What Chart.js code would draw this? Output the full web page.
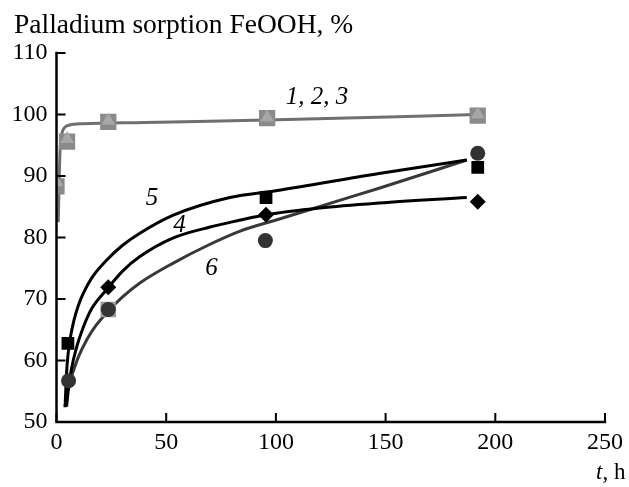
<!DOCTYPE html>
<html>
<head>
<meta charset="utf-8">
<script src="https://cdn.jsdelivr.net/npm/chart.js@4/dist/chart.umd.min.js"></script>
<style>
  html, body { margin: 0; padding: 0; background: #fff; }
  #wrap { width: 629px; height: 487px; position: relative; }
</style>
</head>
<body>
<div id="wrap"><canvas id="c"></canvas></div>
<script>
// Axis ticks
const xTicks = [0, 50, 100, 150, 200, 250];
const yTicks = [50, 60, 70, 80, 90, 100, 110];

// Measured points, samples 1, 2, 3 (grey squares and triangles)
const s123Time = [0, 4.8, 23.6, 96, 192];
const s1Values = [88.3, 95.6, 98.8, 99.4, 99.8];
const s2Values = [89.0, 96.0, 99.0, 99.5, 100.0];

// Measured points, sample 4 (diamonds)
const s4Time = [23.6, 95.5, 192];
const s4Values = [71.9, 83.7, 85.8];

// Measured points, sample 5 (black squares)
const s5Time = [5.2, 95.5, 192];
const s5Values = [62.8, 86.5, 91.4];

// Measured points, sample 6 (circles)
const s6Time = [5.5, 23.6, 95.2, 192];
const s6Values = [56.7, 68.3, 79.5, 93.7];

// Grey square drawn under the circle at 24 h
const s6BackTime = [23.6];
const s6BackValues = [68.3];

// Fitted curves
const fit123Time = [0.8, 1.2, 1.6, 2.4, 3.5, 6, 12, 40, 96, 192];
const fit123Values = [82.5, 89, 94, 96.8, 97.8, 98.3, 98.5, 98.7, 99.1, 100];

const fit5Time = [3.9, 4.5, 5.2, 6.1, 8, 10, 12.2, 16, 22.8, 30, 38, 53, 79, 100, 147, 187];
const fit5Values = [52.4, 57.5, 60.8, 63.3, 66.6, 69.0, 70.9, 73.4, 76.3, 78.7, 80.7, 83.6, 86.5, 87.6, 90.4, 92.6];

const fit4Time = [4.6, 5.5, 6.8, 9.2, 12, 16, 22.8, 30, 38, 53, 70, 83.4, 95.5, 120, 147, 187];
const fit4Values = [52.5, 55.6, 58.6, 62.2, 65.2, 68.4, 71.5, 74.5, 76.9, 79.9, 81.7, 82.8, 83.7, 84.8, 85.6, 86.5];

const fit6Time = [3.9, 4.8, 6, 7.6, 10, 14, 18, 22.8, 30, 38, 53, 70, 83.4, 101.6, 125, 147, 187];
const fit6Values = [52.5, 54.6, 56.4, 58.2, 60.6, 63.5, 65.7, 67.7, 70.3, 72.6, 75.8, 78.9, 81.0, 83.0, 85.6, 88.0, 92.6];

// Curve captions: text, time, value
const captionText = ['1, 2, 3', '5', '4', '6'];
const captionTime = [118.7, 43.5, 56.1, 70.7];
const captionValue = [102.8, 86.3, 82.0, 75.0];

const pts = (xs, ys) => xs.map((x, i) => ({ x, y: ys[i] }));

const SERIF = '"Liberation Serif", "Times New Roman", Tinos, Times, "DejaVu Serif", "Noto Serif", serif';

function markers(data, style, color, radius) {
  return {
    type: 'scatter', data, showLine: false,
    pointStyle: style, pointRadius: radius, pointHoverRadius: radius,
    backgroundColor: color, borderColor: color, borderWidth: 0
  };
}
function curve(data, color) {
  return {
    type: 'line', data, borderColor: color, borderWidth: 3,
    pointRadius: 0, pointHoverRadius: 0, fill: false,
    cubicInterpolationMode: 'monotone'
  };
}

// Axes, inward ticks and captions
const decor = {
  id: 'decor',
  afterDatasetsDraw(chart) {
    const { ctx, chartArea: a, scales: { x, y } } = chart;
    ctx.save();
    ctx.strokeStyle = '#000';
    ctx.lineWidth = 2.5;
    ctx.lineCap = 'square';
    ctx.beginPath();
    ctx.moveTo(a.left, a.top);
    ctx.lineTo(a.left, a.bottom);
    ctx.lineTo(a.right, a.bottom);
    ctx.stroke();
    ctx.lineWidth = 2;
    ctx.lineCap = 'butt';
    ctx.beginPath();
    yTicks.forEach(v => { const py = y.getPixelForValue(v); ctx.moveTo(a.left, py); ctx.lineTo(a.left + 9, py); });
    xTicks.forEach(v => { const px = x.getPixelForValue(v); ctx.moveTo(px, a.bottom); ctx.lineTo(px, a.bottom - 9); });
    ctx.stroke();

    ctx.fillStyle = '#000';
    ctx.textBaseline = 'middle';
    ctx.textAlign = 'center';
    ctx.font = 'italic 25px ' + SERIF;
    captionText.forEach((t, i) => {
      ctx.fillText(t, x.getPixelForValue(captionTime[i]), y.getPixelForValue(captionValue[i]));
    });

    ctx.textAlign = 'left';
    ctx.textBaseline = 'alphabetic';
    ctx.font = '27.5px ' + SERIF;
    ctx.fillText('Palladium sorption FeOOH, %', 14, 33);

    ctx.font = 'italic 23px ' + SERIF;
    const tW = ctx.measureText('t').width;
    ctx.fillText('t', 596, 479);
    ctx.font = '23px ' + SERIF;
    ctx.fillText(', h', 596 + tW, 479);
    ctx.restore();
  }
};

new Chart(document.getElementById('c'), {
  data: {
    datasets: [
      markers(pts(s5Time, s5Values), 'rect', '#000', 9),
      markers(pts(s4Time, s4Values), 'rectRot', '#000', 8),
      markers(pts(s6Time, s6Values), 'circle', '#333', 7.5),
      markers(pts(s6BackTime, s6BackValues), 'rect', '#9a9a9a', 11),
      markers(pts(s123Time, s2Values), 'triangle', '#a6a6a6', 8),
      markers(pts(s123Time, s1Values), 'rect', '#8a8a8a', 11.5),
      curve(pts(fit5Time, fit5Values), '#000'),
      curve(pts(fit4Time, fit4Values), '#000'),
      curve(pts(fit6Time, fit6Values), '#383838'),
      curve(pts(fit123Time, fit123Values), '#6f6f6f')
    ]
  },
  options: {
    responsive: true,
    maintainAspectRatio: false,
    animation: false,
    events: [],
    layout: { padding: { top: 53, right: 22, left: 0, bottom: 0 } },
    plugins: { legend: { display: false }, tooltip: { enabled: false } },
    scales: {
      x: {
        type: 'linear', min: 0, max: 250,
        afterFit: s => { s.height = 65; },
        afterBuildTicks: s => { s.ticks = xTicks.map(v => ({ value: v })); },
        grid: { display: false, drawTicks: false },
        border: { display: false },
        ticks: { color: '#000', padding: 6, maxRotation: 0, font: { family: SERIF, size: 24 } }
      },
      y: {
        type: 'linear', min: 50, max: 110,
        afterFit: s => { s.width = 56.5; },
        afterBuildTicks: s => { s.ticks = yTicks.map(v => ({ value: v })); },
        grid: { display: false, drawTicks: false },
        border: { display: false },
        ticks: { color: '#000', padding: 9, font: { family: SERIF, size: 24 } }
      }
    }
  },
  plugins: [decor]
});
</script>
</body>
</html>
